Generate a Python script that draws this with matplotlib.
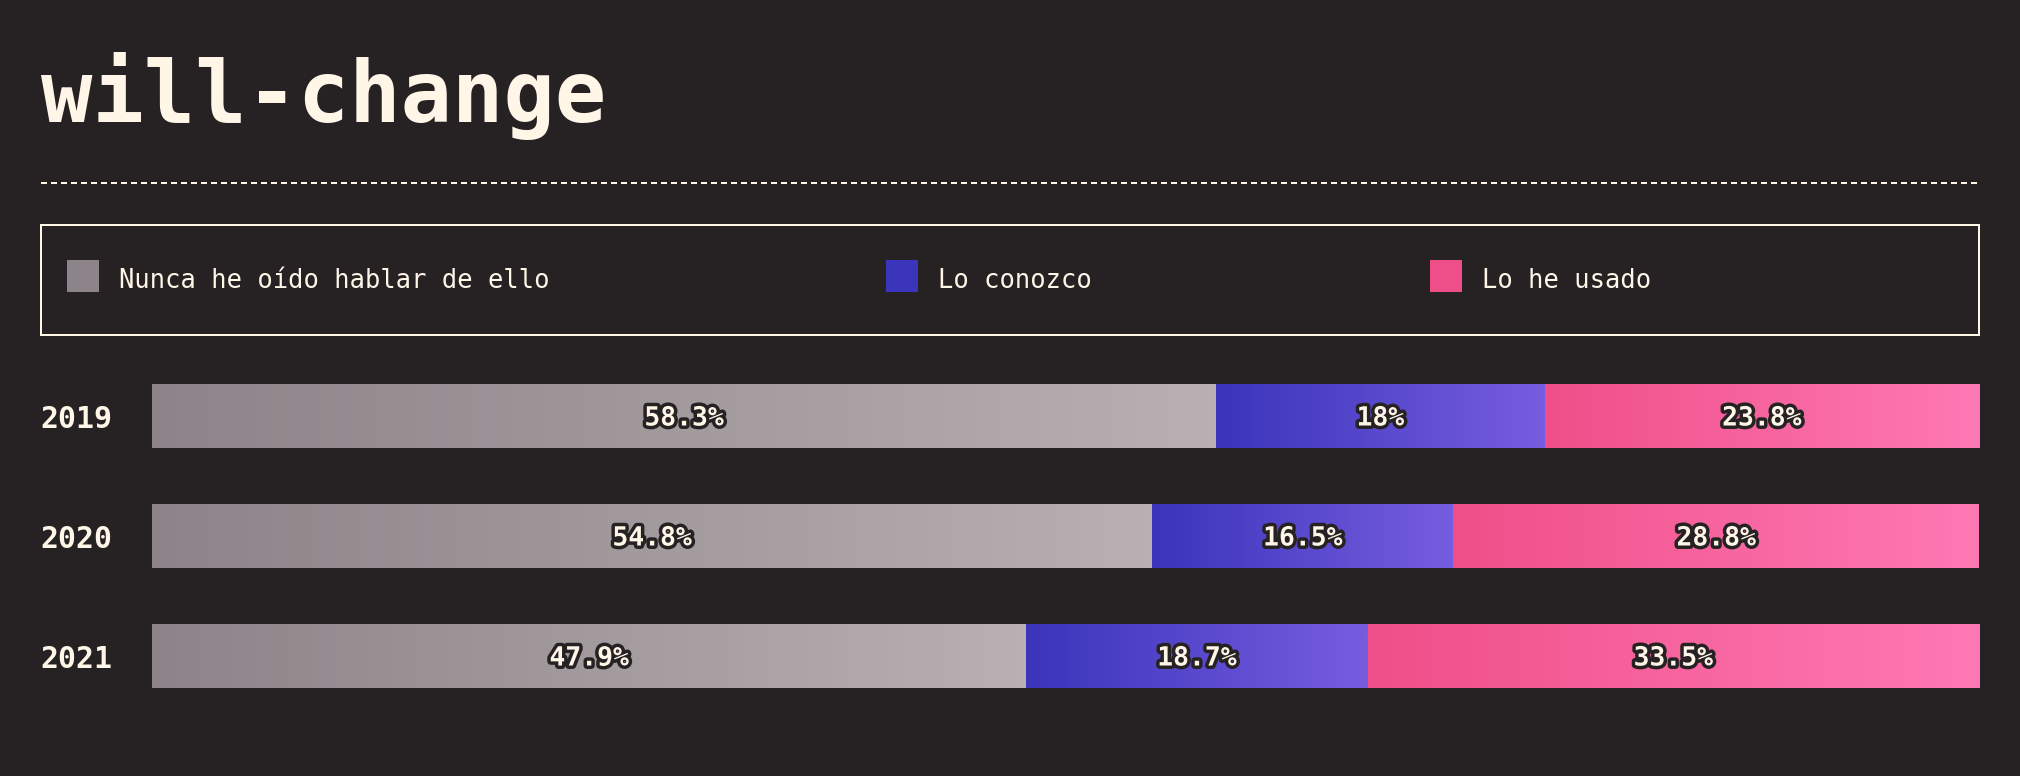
import numpy as np
import matplotlib
matplotlib.use("Agg")
import matplotlib.pyplot as plt
from matplotlib.colors import LinearSegmentedColormap
from matplotlib.patches import Rectangle
from matplotlib.lines import Line2D
from matplotlib import patheffects
from matplotlib.transforms import blended_transform_factory, offset_copy

# data
years = ["2019", "2020", "2021"]
categories = ["Nunca he oído hablar de ello", "Lo conozco", "Lo he usado"]
never_heard = [58.3, 54.8, 47.9]
know_it = [18.0, 16.5, 18.7]
used_it = [23.8, 28.8, 33.5]

# styling
bg = "#262224"
cream = "#fff6e8"
grad_colors = [("#8d8489", "#b9b0b3"), ("#3a35bb", "#775ddf"), ("#ef4f89", "#ff79b4")]
mono = "DejaVu Sans Mono"

W, H = 2020, 776
fig = plt.figure(figsize=(W / 100, H / 100), dpi=100, facecolor=bg)


def fx(x):
    return x / W


def fy(y):
    return 1 - y / H


# title + dashed rule
fig.text(fx(41), fy(122), "will-change", fontsize=61.5, fontweight="bold",
         family=mono, color=cream, va="baseline", ha="left")
fig.add_artist(Line2D([fx(41), fx(1979)], [fy(183), fy(183)], color=cream,
                      lw=1.44, linestyle=(0, (3, 2))))

# legend box
fig.add_artist(Rectangle((fx(41), fy(335)), fx(1979) - fx(41), fy(225) - fy(335),
                         fill=False, edgecolor=cream, lw=1.44))
legend_x = [67, 886, 1430]
for i, (name, x) in enumerate(zip(categories, legend_x)):
    fig.add_artist(Rectangle((fx(x), fy(292)), fx(32), 32 / H,
                             facecolor=grad_colors[i][0], edgecolor="none"))
    fig.text(fx(x + 52), fy(288), name, fontsize=18.4, family=mono,
             color=cream, va="baseline", ha="left")

# bars
ax = fig.add_axes([fx(152), fy(688), fx(1979) - fx(152), (688 - 384) / H])
ax.set_facecolor(bg)
for s in ax.spines.values():
    s.set_visible(False)
ax.set_xticks([])
ax.set_yticks([])

series = [never_heard, know_it, used_it]
ypos = np.arange(len(years))
height = 64 / 120
left = np.zeros(len(years))
totals = np.sum(series, axis=0)
grad = np.linspace(0, 1, 256).reshape(1, -1)
stroke = [patheffects.withStroke(linewidth=5, foreground=bg)]
label_trans = offset_copy(ax.transData, fig=fig, x=0, y=-2.5, units="dots")

for i, vals in enumerate(series):
    cmap = LinearSegmentedColormap.from_list("g%d" % i, grad_colors[i])
    bars = ax.barh(ypos, vals, left=left, height=height, color="none", edgecolor="none")
    for bar, v in zip(bars, vals):
        x0, y0 = bar.get_x(), bar.get_y()
        w, h = bar.get_width(), bar.get_height()
        im = ax.imshow(grad, extent=(x0, x0 + w, y0 + h, y0), cmap=cmap,
                       aspect="auto", interpolation="bilinear", zorder=1)
        im.set_clip_path(bar)
        ax.text(x0 + w / 2, y0 + h / 2, "%g%%" % v, ha="center", va="center",
                fontsize=19, fontweight="bold", family=mono, color=cream,
                path_effects=stroke, zorder=3, transform=label_trans)
    left = left + np.array(vals)

ax.set_xlim(0, totals.max())
ax.set_ylim(len(years) - 1 + height / 2, -height / 2)

# year labels
trans = offset_copy(blended_transform_factory(fig.transFigure, ax.transData),
                    fig=fig, x=0, y=-3, units="dots")
for y, yr in zip(ypos, years):
    ax.text(fx(40), y, yr, transform=trans, ha="left", va="center",
            fontsize=21.5, fontweight="bold", family=mono, color=cream)

plt.savefig("out.png", dpi=100, facecolor=bg)
